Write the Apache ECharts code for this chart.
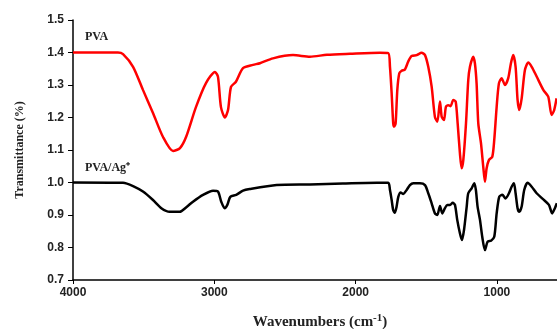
<!DOCTYPE html>
<html>
<head>
<meta charset="utf-8">
<script src="https://cdn.jsdelivr.net/npm/echarts@6/dist/echarts.min.js"></script>
<style>
html,body{margin:0;padding:0;background:#fff;}
#chart{width:557px;height:329px;}
</style>
</head>
<body>
<div id="chart"></div>
<script>
// Data
const xTicks = [4000, 3000, 2000, 1000];
const pvaWn = [4000, 3682, 3646, 3575, 3505, 3434, 3363, 3292, 3243, 3200, 3130, 3059, 2995, 2974, 2953, 2925, 2903, 2882, 2847, 2797, 2726, 2677, 2585, 2443, 2323, 2203, 2040, 1828, 1769, 1757, 1745, 1734, 1727, 1717, 1705, 1691, 1674, 1651, 1628, 1604, 1568, 1533, 1509, 1486, 1462, 1439, 1422, 1403, 1391, 1375, 1361, 1345, 1328, 1309, 1292, 1278, 1262, 1250, 1238, 1219, 1203, 1191, 1168, 1156, 1144, 1132, 1113, 1097, 1085, 1073, 1057, 1033, 1019, 1002, 986, 967, 943, 920, 901, 885, 868, 854, 842, 825, 802, 778, 754, 719, 672, 637, 613, 595, 578];
const pvaT = [1.400, 1.400, 1.395, 1.356, 1.285, 1.214, 1.140, 1.097, 1.106, 1.140, 1.232, 1.306, 1.340, 1.325, 1.232, 1.200, 1.223, 1.294, 1.310, 1.352, 1.362, 1.367, 1.382, 1.392, 1.387, 1.393, 1.396, 1.399, 1.398, 1.356, 1.274, 1.182, 1.172, 1.182, 1.285, 1.336, 1.344, 1.348, 1.372, 1.389, 1.392, 1.399, 1.392, 1.356, 1.295, 1.202, 1.187, 1.249, 1.202, 1.192, 1.233, 1.238, 1.235, 1.254, 1.249, 1.182, 1.090, 1.044, 1.069, 1.182, 1.315, 1.356, 1.387, 1.367, 1.305, 1.182, 1.121, 1.049, 1.002, 1.044, 1.069, 1.079, 1.131, 1.233, 1.305, 1.321, 1.300, 1.321, 1.367, 1.392, 1.356, 1.254, 1.223, 1.259, 1.346, 1.369, 1.356, 1.326, 1.285, 1.264, 1.208, 1.223, 1.259];
const agWn = [4000, 3646, 3575, 3505, 3434, 3375, 3316, 3245, 3198, 3151, 3080, 3009, 2974, 2951, 2927, 2908, 2887, 2845, 2797, 2750, 2559, 2323, 2090, 1849, 1769, 1757, 1745, 1734, 1722, 1710, 1698, 1681, 1663, 1639, 1616, 1592, 1545, 1509, 1486, 1462, 1439, 1422, 1403, 1387, 1368, 1351, 1332, 1313, 1297, 1281, 1262, 1248, 1233, 1214, 1203, 1179, 1160, 1149, 1137, 1120, 1104, 1085, 1066, 1042, 1019, 1002, 984, 962, 939, 915, 896, 880, 868, 854, 842, 825, 807, 783, 754, 719, 672, 632, 609, 590, 576];
const agT = [1.000, 0.999, 0.989, 0.972, 0.946, 0.921, 0.910, 0.910, 0.924, 0.941, 0.962, 0.975, 0.972, 0.941, 0.921, 0.931, 0.956, 0.962, 0.975, 0.980, 0.992, 0.994, 0.997, 0.999, 0.999, 0.977, 0.946, 0.915, 0.907, 0.926, 0.956, 0.969, 0.965, 0.977, 0.992, 0.998, 0.998, 0.992, 0.967, 0.936, 0.905, 0.900, 0.928, 0.905, 0.921, 0.931, 0.931, 0.938, 0.931, 0.885, 0.844, 0.823, 0.854, 0.926, 0.967, 0.982, 0.998, 0.977, 0.926, 0.885, 0.833, 0.792, 0.818, 0.821, 0.833, 0.905, 0.956, 0.962, 0.951, 0.967, 0.987, 0.998, 0.967, 0.921, 0.910, 0.926, 0.977, 0.999, 0.987, 0.967, 0.948, 0.931, 0.905, 0.921, 0.936];
const seriesNames = ['PVA', 'PVA/Ag\u207A'];
const yTitle = 'Transmittance (%)';
const xMinVisible = 575;

const chart = echarts.init(document.getElementById('chart'), null, {renderer: 'canvas'});
const pair = (xs, ys) => xs.map((x, i) => [x, ys[i]]);
const labelFont = {fontFamily: 'Liberation Sans, Arial', fontWeight: 'bold', fontSize: 12, color: '#222'};
chart.setOption({
  animation: false,
  backgroundColor: '#fff',
  grid: {left: 73, right: 0, top: 20, bottom: 49, outerBoundsMode: 'none', containLabel: false},
  xAxis: {
    type: 'value', inverse: true, min: xMinVisible, max: 4000,
    axisLine: {show: true, onZero: false, lineStyle: {color: '#000', width: 1.5}},
    axisTick: {show: true, length: 4, customValues: xTicks, lineStyle: {color: '#000', width: 1}},
    splitLine: {show: false},
    axisLabel: Object.assign({margin: 7, customValues: xTicks, formatter: v => String(v)}, labelFont)
  },
  yAxis: {
    type: 'value', min: 0.7, max: 1.5, interval: 0.1,
    axisLine: {show: true, onZero: false, lineStyle: {color: '#000', width: 1.5}},
    axisTick: {show: true, length: 5, lineStyle: {color: '#000', width: 1}},
    splitLine: {show: false},
    axisLabel: Object.assign({margin: 9, formatter: v => v.toFixed(1)}, labelFont)
  },
  series: [
    {name: seriesNames[0], type: 'line', data: pair(pvaWn, pvaT), showSymbol: false, smooth: 0.25,
     lineStyle: {color: '#ff0000', width: 2.5}, itemStyle: {color: '#ff0000'}},
    {name: seriesNames[1], type: 'line', data: pair(agWn, agT), showSymbol: false, smooth: 0.25,
     lineStyle: {color: '#000000', width: 2.5}, itemStyle: {color: '#000'}}
  ],
  graphic: [
    {type: 'text', left: 85, top: 31, style: {text: seriesNames[0], font: 'bold 12px "Liberation Serif", serif', fill: '#222'}},
    {type: 'text', left: 85, top: 162, style: {text: seriesNames[1], font: 'bold 12px "Liberation Serif", serif', fill: '#222'}},
    {type: 'text', x: 20, y: 150, rotation: Math.PI / 2,
     style: {text: yTitle, font: 'bold 12px "Liberation Serif", serif', fill: '#222', align: 'center', verticalAlign: 'middle'}},
    {type: 'text', x: 320, y: 322,
     style: {text: 'Wavenumbers (cm{s|-1})', align: 'center', verticalAlign: 'middle',
       font: 'bold 15px "Liberation Serif", serif', fill: '#222',
       rich: {s: {fontSize: 11, fontWeight: 'bold', fontFamily: 'Liberation Serif', verticalAlign: 'top', padding: [0, 0, 8, 0], fill: '#222'}}}}
  ]
});
</script>
</body>
</html>
